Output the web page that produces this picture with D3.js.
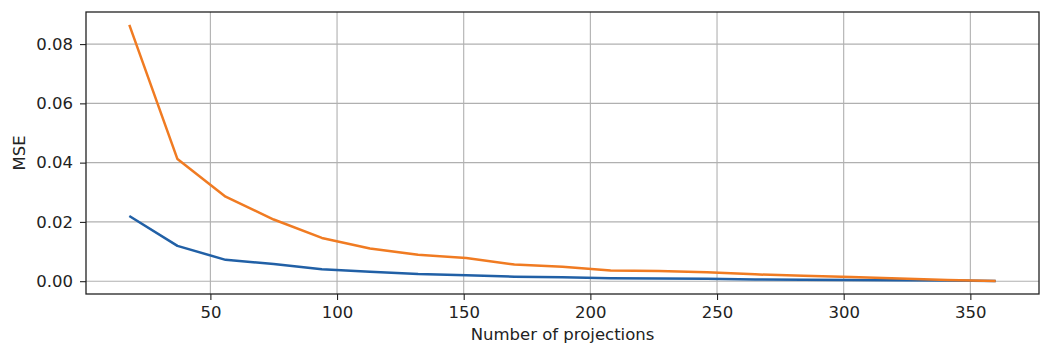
<!DOCTYPE html>
<html>
<head>
<meta charset="utf-8">
<script src="https://cdn.jsdelivr.net/npm/d3@7"></script>
<style>
  body { margin: 0; background: #fff; }
  svg text { font-family: "DejaVu Sans", sans-serif; fill: #222; }
</style>
</head>
<body>
<div id="chart"></div>
<script>
// number of projections (x)
const projections = [18, 37, 56, 75, 94, 113, 132, 151, 170, 189, 208, 227, 246, 265, 284, 303, 322, 341, 360];
// MSE, first series (blue)
const mseBlue = [0.0220, 0.0119, 0.0072, 0.0058, 0.0040, 0.0032, 0.0024, 0.0020, 0.0015, 0.0013,
  0.0010, 0.0009, 0.0008, 0.0006, 0.0005, 0.0004, 0.0003, 0.0002, 0.0001];
// MSE, second series (orange)
const mseOrange = [0.0865, 0.0412, 0.0285, 0.0208, 0.0146, 0.0110, 0.0089, 0.0078, 0.0056, 0.0049,
  0.0036, 0.0034, 0.0030, 0.0023, 0.0018, 0.0014, 0.0009, 0.0004, 0.0001];
const xTicks = [50, 100, 150, 200, 250, 300, 350];
const yTicks = [0, 0.02, 0.04, 0.06, 0.08];

const W = 1050, H = 358;
const margin = {top: 12, right: 11, bottom: 64, left: 86};
const w = W - margin.left - margin.right;
const h = H - margin.top - margin.bottom;

let svg = d3.select("#chart").append("svg")
  .attr("width", W).attr("height", H);

let g = svg.append("g")
  .attr("transform", `translate(${margin.left},${margin.top})`);

// matplotlib-like 5% margins
let xmin = d3.min(projections), xmax = d3.max(projections);
let xpad = (xmax - xmin) * 0.05;
const xScale = d3.scaleLinear().domain([xmin - xpad, xmax + xpad]).range([0, w]);

let ymax = d3.max(mseOrange.concat(mseBlue)), ymin = 0;
let ypad = (ymax - ymin) * 0.05;
const yScale = d3.scaleLinear().domain([ymin - ypad, ymax + ypad]).range([h, 0]);

// grid
g.append("g").selectAll("line").data(xTicks).enter().append("line")
  .attr("x1", d => xScale(d)).attr("x2", d => xScale(d))
  .attr("y1", 0).attr("y2", h)
  .attr("stroke", "#b0b0b0").attr("stroke-width", 1.1);
g.append("g").selectAll("line").data(yTicks).enter().append("line")
  .attr("y1", d => yScale(d)).attr("y2", d => yScale(d))
  .attr("x1", 0).attr("x2", w)
  .attr("stroke", "#b0b0b0").attr("stroke-width", 1.1);

// axes
const xAxis = d3.axisBottom(xScale).tickValues(xTicks).tickSize(6).tickPadding(6).tickFormat(d3.format("d"));
const yAxis = d3.axisLeft(yScale).tickValues(yTicks).tickSize(6).tickPadding(7).tickFormat(d3.format(".2f"));

let gx = g.append("g").attr("transform", `translate(0,${h})`).call(xAxis);
let gy = g.append("g").call(yAxis);
[gx, gy].forEach(a => {
  a.select(".domain").remove();
  a.selectAll(".tick line").attr("stroke", "#222").attr("stroke-width", 1.1);
  a.selectAll(".tick text").style("font-size", "16.5px").attr("fill", "#222");
});

// lines
let line = d3.line().x((d, i) => xScale(projections[i])).y(d => yScale(d));
g.append("path").datum(mseBlue)
  .attr("d", line).attr("fill", "none")
  .attr("stroke", "#2160a6").attr("stroke-width", 2.5).attr("stroke-linejoin", "round");
g.append("path").datum(mseOrange)
  .attr("d", line).attr("fill", "none")
  .attr("stroke", "#f07b22").attr("stroke-width", 2.5).attr("stroke-linejoin", "round");

// frame
g.append("rect").attr("x", 0).attr("y", 0).attr("width", w).attr("height", h)
  .attr("fill", "none").attr("stroke", "#222").attr("stroke-width", 1.3);

// labels
svg.append("text")
  .attr("x", margin.left + w / 2).attr("y", 340)
  .attr("text-anchor", "middle").style("font-size", "16.5px")
  .text("Number of projections");

svg.append("text")
  .attr("transform", `translate(25,${margin.top + h / 2}) rotate(-90)`)
  .attr("text-anchor", "middle").style("font-size", "16.5px")
  .text("MSE");
</script>
</body>
</html>
